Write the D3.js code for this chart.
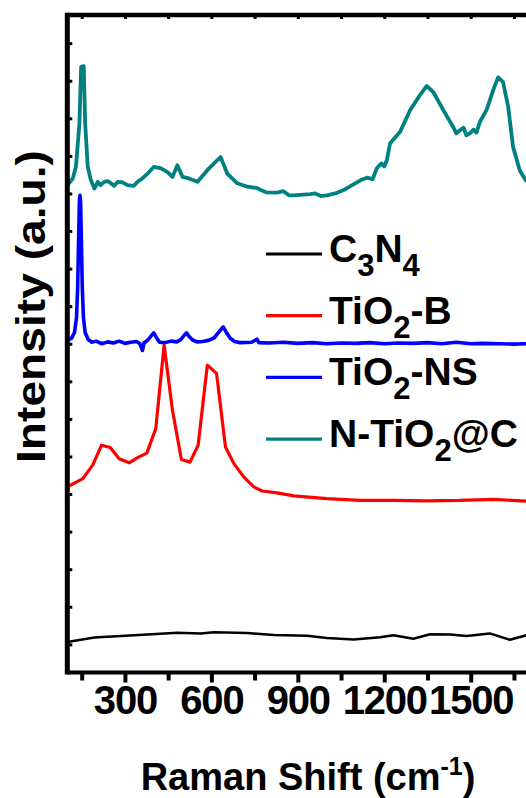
<!DOCTYPE html>
<html>
<head>
<meta charset="utf-8">
<script src="https://cdn.jsdelivr.net/npm/d3@7"></script>
<style>
  body { margin: 0; background: #fff; }
  svg { display: block; font-family: "Liberation Sans", Arial, sans-serif; font-weight: bold; }
</style>
</head>
<body>
<svg></svg>
<script>
// Raman spectra, stacked with offsets (a.u.)
const majorTicks = [300, 600, 900, 1200, 1500];
const minorTicks = [150, 450, 750, 1050, 1350, 1650];
const yTicks = d3.range(0, 17);

const c3n4 = [[100,0.06],[194,0.18],[378,0.26],[482,0.31],[563,0.29],[609,0.32],[725,0.30],[817,0.25],
  [932,0.23],[1001,0.17],[1093,0.13],[1186,0.19],[1232,0.24],[1301,0.15],[1359,0.27],[1428,0.26],
  [1486,0.22],[1566,0.29],[1636,0.12],[1693,0.24],[1750,0.22]];

const tio2B = [[100,4.19],[154,4.41],[188,4.77],[219,5.30],[249,5.24],[280,4.94],[315,4.83],[344,4.97],
  [376,5.09],[407,5.74],[436,7.96],[465,6.23],[496,4.92],[526,4.85],[554,5.30],[586,7.43],[618,7.21],
  [649,5.25],[678,4.81],[713,4.45],[747,4.19],[776,4.08],[828,4.03],[886,3.95],[1001,3.88],[1117,3.83],
  [1232,3.83],[1347,3.82],[1462,3.83],[1578,3.86],[1691,3.81],[1750,3.80]];

const tio2NS = [[100,8.09],[115,8.15],[125,8.3],[132,8.7],[136,9.5],[139,10.7],[142,11.8],[144,11.95],
  [146,11.8],[149,10.7],[152,9.5],[156,8.7],[162,8.3],[172,8.12],[185,8.04],[200,8.07],[220,8.0],
  [240,8.05],[260,8.02],[280,8.07],[300,8.01],[320,8.04],[340,8.06],[352,8.0],[361,7.82],[366,8.02],
  [380,8.1],[392,8.22],[400,8.29],[408,8.18],[420,8.04],[440,8.03],[460,8.07],[480,8.05],[495,8.12],
  [505,8.22],[514,8.29],[522,8.2],[535,8.1],[550,8.05],[570,8.06],[590,8.09],[610,8.16],[625,8.3],
  [641,8.45],[652,8.3],[665,8.15],[680,8.06],[700,8.03],[740,8.04],[758,8.12],[765,8.03],[800,8.02],
  [850,8.04],[900,8.01],[950,8.03],[1000,8.0],[1050,8.02],[1100,8.01],[1150,8.03],[1200,8.0],
  [1250,8.02],[1300,8.01],[1350,8.03],[1400,8.0],[1450,8.04],[1500,8.0],[1540,8.01],[1600,8.0],
  [1650,7.99],[1700,8.0],[1750,8.0]];

const nTiO2C = [[100,12.22],[119,12.40],[130,12.71],[142,13.86],[148,15.37],[157,15.39],[162,13.86],
  [171,12.71],[182,12.35],[194,12.13],[206,12.31],[215,12.22],[228,12.31],[240,12.33],[252,12.27],
  [262,12.2],[275,12.31],[290,12.3],[309,12.22],[330,12.2],[344,12.31],[360,12.4],[379,12.53],
  [401,12.71],[425,12.67],[448,12.57],[465,12.44],[482,12.75],[500,12.44],[522,12.40],[552,12.31],
  [586,12.62],[621,12.89],[632,12.97],[655,12.53],[690,12.27],[725,12.18],[760,12.14],[771,12.09],
  [790,12.03],[828,12.02],[850,12.06],[870,11.95],[886,11.95],[920,11.97],[944,11.98],[960,12.0],
  [980,11.93],[1001,11.95],[1030,12.0],[1059,12.09],[1117,12.35],[1140,12.42],[1160,12.38],
  [1174,12.67],[1190,12.8],[1200,12.72],[1209,12.89],[1220,13.33],[1255,13.64],[1290,14.22],
  [1324,14.62],[1347,14.86],[1370,14.70],[1405,14.22],[1439,13.77],[1450,13.6],[1463,13.68],
  [1475,13.75],[1485,13.55],[1497,13.60],[1510,13.7],[1520,13.62],[1532,13.91],[1555,14.22],
  [1578,14.75],[1595,15.09],[1612,14.97],[1630,14.31],[1647,13.24],[1670,12.62],[1691,12.35],
  [1720,12.2],[1750,12.1]];

const seriesNames = ["C3N4", "TiO2-B", "TiO2-NS", "N-TiO2@C"];
const seriesColors = ["#000000", "#ff0000", "#0000ff", "#008080"];
const seriesWidths = [2.5, 3.2, 3.6, 3.8];
const seriesData = [c3n4, tio2B, tio2NS, nTiO2C];

const svgWidth = 526, svgHeight = 798;
const plotLeft = 67.3, plotTop = 15, plotBottom = 672.5;

const svg = d3.select("svg").attr("width", svgWidth).attr("height", svgHeight);

const x = d3.scaleLinear().domain([100, 1750]).range([plotLeft, plotLeft + 1650 * 0.28815]);
const y = d3.scaleLinear().domain([-0.75, 16.75]).range([plotBottom, plotTop]);

const line = d3.line().x(d => x(d[0])).y(d => y(d[1]));

// curves
svg.append("g").selectAll("path")
    .data(seriesData)
    .enter()
    .append("path")
    .attr("fill", "none")
    .attr("stroke", (d, i) => seriesColors[i])
    .attr("stroke-width", (d, i) => seriesWidths[i])
    .attr("stroke-linejoin", "round")
    .attr("d", line);

// bottom axis, major and minor ticks
const xMajor = svg.append("g")
    .attr("transform", "translate(0," + plotBottom + ")")
    .call(d3.axisBottom(x).tickValues(majorTicks).tickSize(10).tickPadding(3).tickFormat(d3.format("d")));
xMajor.select(".domain").remove();
xMajor.selectAll("line").attr("stroke-width", 4);
xMajor.selectAll("text")
    .attr("font-size", 40)
    .attr("letter-spacing", -1.2)
    .attr("font-family", "Liberation Sans, Arial")
    .attr("font-weight", "bold")
    .attr("fill", "#000");

const xMinor = svg.append("g")
    .attr("transform", "translate(0," + plotBottom + ")")
    .call(d3.axisBottom(x).tickValues(minorTicks).tickSize(8).tickFormat(""));
xMinor.select(".domain").remove();
xMinor.selectAll("line").attr("stroke-width", 4);

// top ticks (inward)
const xTop = svg.append("g")
    .attr("transform", "translate(0," + plotTop + ")")
    .call(d3.axisBottom(x).tickValues(majorTicks.concat(minorTicks)).tickSize(4).tickFormat(""));
xTop.select(".domain").remove();
xTop.selectAll("line").attr("stroke-width", 3);

// left ticks (inward)
const yAx = svg.append("g")
    .attr("transform", "translate(" + plotLeft + ",0)")
    .call(d3.axisRight(y).tickValues(yTicks).tickSize(5).tickFormat(""));
yAx.select(".domain").remove();
yAx.selectAll("line").attr("stroke-width", 3);

// frame
svg.append("line").attr("x1", plotLeft).attr("x2", svgWidth + 5).attr("y1", plotTop).attr("y2", plotTop)
    .attr("stroke", "#000").attr("stroke-width", 4.5);
svg.append("line").attr("x1", plotLeft).attr("x2", svgWidth + 5).attr("y1", plotBottom).attr("y2", plotBottom)
    .attr("stroke", "#000").attr("stroke-width", 4);
svg.append("line").attr("x1", plotLeft).attr("x2", plotLeft).attr("y1", plotTop - 2.2).attr("y2", plotBottom + 2)
    .attr("stroke", "#000").attr("stroke-width", 5);

// legend
const legend = svg.append("g").attr("transform", "translate(266,254)");
const rows = legend.selectAll("g")
    .data(seriesNames)
    .enter()
    .append("g")
    .attr("transform", (d, i) => "translate(0," + (i * 61.7) + ")");
rows.append("line")
    .attr("x1", 0).attr("x2", 56)
    .attr("stroke", (d, i) => seriesColors[i])
    .attr("stroke-width", 3.2);

const labelParts = [
  [["C", 0], ["3", 1], ["N", 0], ["4", 1]],
  [["TiO", 0], ["2", 1], ["-B", 0]],
  [["TiO", 0], ["2", 1], ["-NS", 0]],
  [["N-TiO", 0], ["2", 1], ["@C", 0]]
];
rows.append("text")
    .attr("x", 63)
    .attr("y", 8)
    .attr("font-size", 39)
    .each(function(d, i) {
      const t = d3.select(this);
      let prev = 0;
      labelParts[i].forEach(function(p) {
        const shift = p[1] ? 14 : 0;
        t.append("tspan")
            .attr("dy", shift - prev)
            .attr("font-size", p[1] ? 31 : 39)
            .text(p[0]);
        prev = shift;
      });
    });

// axis titles
const xt = svg.append("text")
    .attr("x", 308)
    .attr("y", 790)
    .attr("text-anchor", "middle")
    .attr("font-size", 38);
xt.append("tspan").text("Raman Shift (cm");
xt.append("tspan").attr("font-size", 25).attr("dy", -15).text("-1");
xt.append("tspan").attr("dy", 15).text(")");

svg.append("text")
    .attr("transform", "translate(45,306.5) rotate(-90)")
    .attr("text-anchor", "middle")
    .attr("font-size", 40)
    .attr("textLength", 313)
    .attr("lengthAdjust", "spacingAndGlyphs")
    .text("Intensity (a.u.)");
</script>
</body>
</html>
